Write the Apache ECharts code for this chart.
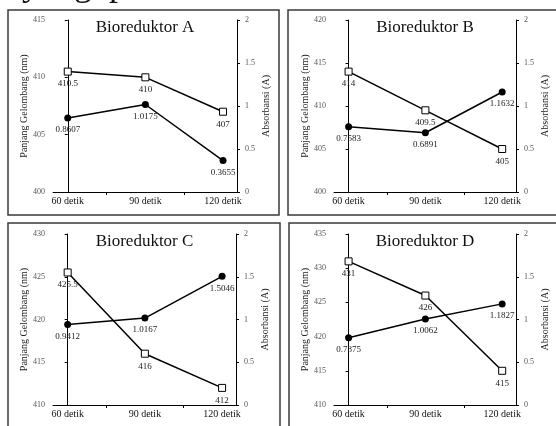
<!DOCTYPE html>
<html><head><meta charset="utf-8">
<script src="https://cdn.jsdelivr.net/npm/echarts@6/dist/echarts.min.js"></script>
<style>html,body{margin:0;padding:0;background:#fff;overflow:hidden}#c{width:556px;height:426px}</style>
</head><body><div id="c"></div>
<script>
// ---- data ----
const categories = ['60 detik', '90 detik', '120 detik'];
const panelTitles = ['Bioreduktor A', 'Bioreduktor B', 'Bioreduktor C', 'Bioreduktor D'];
const waveA = [410.5, 410, 407];
const absA = [0.8607, 1.0175, 0.3655];
const waveB = [414, 409.5, 405];
const absB = [0.7583, 0.6891, 1.1632];
const waveC = [425.5, 416, 412];
const absC = [0.9412, 1.0167, 1.5046];
const waveD = [431, 426, 415];
const absD = [0.7875, 1.0062, 1.1827];
const waveAxisMin = [400, 400, 410, 410];
const waveAxisMax = [415, 420, 430, 435];
const waveAxisStep = 5;
const absAxisMin = 0, absAxisMax = 2, absAxisStep = 0.5;
const waveAxisName = 'Panjang Gelombang (nm)';
const absAxisName = 'Absorbansi (A)';
const topWords = ['yang', 'p'];

const waves = [waveA, waveB, waveC, waveD];
const abss = [absA, absB, absC, absD];

// ---- layout ----
const grids = [
  {left: 53, top: 20, width: 184, height: 172},
  {left: 334, top: 20, width: 182, height: 172},
  {left: 53, top: 234, width: 183, height: 171},
  {left: 334, top: 234, width: 182, height: 171}
];
const boxes = [[8, 10, 271, 205], [288, 10, 290, 205], [8, 223, 272, 230], [289, 223, 290, 230]];
const serif = '"Liberation Serif", "Times New Roman", serif';

const xAxis = [], yAxis = [], series = [], graphic = [];
grids.forEach((g, i) => {
  xAxis.push({
    type: 'value', gridIndex: i, min: -0.19, max: 2.18,
    splitLine: {show: false},
    axisLine: {show: true, onZero: false, lineStyle: {color: '#000', width: 1}},
    axisTick: {show: true, customValues: [0.5, 1.5], length: 3, lineStyle: {color: '#000'}},
    axisLabel: {customValues: [0, 1, 2], formatter: v => categories[Math.round(v)],
      fontFamily: serif, fontSize: 10, color: '#111', margin: 4}
  });
  yAxis.push({
    type: 'value', gridIndex: i, position: 'left',
    min: waveAxisMin[i], max: waveAxisMax[i], interval: waveAxisStep,
    splitLine: {show: false},
    axisLine: {show: true, lineStyle: {color: '#000', width: 1}},
    axisTick: {show: true, length: 3, lineStyle: {color: '#000'}},
    axisLabel: {fontFamily: serif, fontSize: 8, color: '#555', margin: 8},
    name: waveAxisName, nameLocation: 'middle', nameRotate: 90, nameGap: 24,
    nameTextStyle: {fontFamily: serif, fontSize: 10, color: '#222'}
  });
  yAxis.push({
    type: 'value', gridIndex: i, position: 'right',
    min: absAxisMin, max: absAxisMax, interval: absAxisStep,
    splitLine: {show: false},
    axisLine: {show: true, lineStyle: {color: '#000', width: 1}},
    axisTick: {show: true, length: 3, lineStyle: {color: '#000'}},
    axisLabel: {fontFamily: serif, fontSize: 8, color: '#555', margin: 8},
    name: absAxisName, nameLocation: 'middle', nameRotate: 90, nameGap: 24,
    nameTextStyle: {fontFamily: serif, fontSize: 10, color: '#222'}
  });
  const lbl = {show: true, position: 'bottom', distance: 4, fontFamily: serif, fontSize: 9, color: '#222',
    formatter: p => String(p.value[1])};
  series.push({
    type: 'line', xAxisIndex: i, yAxisIndex: 2 * i,
    data: waves[i].map((v, j) => [j, v]),
    symbol: 'rect', symbolSize: 7,
    itemStyle: {color: '#fff', borderColor: '#000', borderWidth: 1},
    lineStyle: {color: '#000', width: 1.5},
    label: lbl, z: 3
  });
  series.push({
    type: 'line', xAxisIndex: i, yAxisIndex: 2 * i + 1,
    data: abss[i].map((v, j) => [j, v]),
    symbol: 'circle', symbolSize: 7,
    itemStyle: {color: '#000'},
    lineStyle: {color: '#000', width: 1.5},
    label: lbl, z: 2
  });
  const b = boxes[i];
  graphic.push({type: 'rect', shape: {x: b[0], y: b[1], width: b[2], height: b[3]},
    style: {fill: 'none', stroke: '#3a3a3a', lineWidth: 1.5}, silent: true});
  graphic.push({type: 'text', x: g.left + g.width / 2, y: g.top + 8,
    style: {text: panelTitles[i], font: '17px ' + serif, fill: '#111', align: 'center', verticalAlign: 'middle'}});
});
graphic.push({type: 'text', x: 22, y: -14,
  style: {text: topWords[0], font: '36px ' + serif, fill: '#111', align: 'left', verticalAlign: 'middle'}});
graphic.push({type: 'text', x: 109, y: -14,
  style: {text: topWords[1], font: '36px ' + serif, fill: '#111', align: 'left', verticalAlign: 'middle'}});

const chart = echarts.init(document.getElementById('c'), null, {renderer: 'canvas'});
chart.setOption({
  animation: false,
  backgroundColor: '#fff',
  grid: grids,
  xAxis, yAxis, series, graphic
});
</script></body></html>
